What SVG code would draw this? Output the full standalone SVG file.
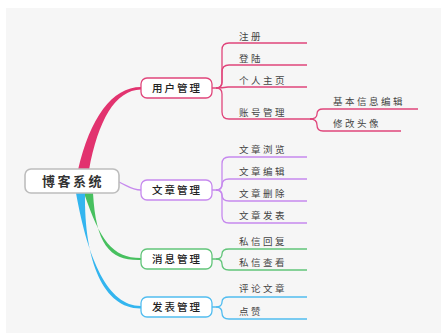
<svg xmlns="http://www.w3.org/2000/svg" width="441" height="333" viewBox="0 0 441 333">
<style>
.bg{fill:#f6f6f6}
.box{fill:#ffffff;stroke-width:1.3}
.root{fill:#ffffff;stroke:#bdbdbd;stroke-width:1.6}
.rt{font-family:"Noto Sans CJK SC","Noto Sans",sans-serif;font-size:13px;font-weight:bold;fill:#333;letter-spacing:2.5px}
.ct{font-family:"Noto Sans CJK SC","Noto Sans",sans-serif;font-size:10.5px;font-weight:500;fill:#222;letter-spacing:2px}
.lt{font-family:"Noto Sans CJK SC","Noto Sans",sans-serif;font-size:9.5px;fill:#444;letter-spacing:2.5px}
.ln{fill:none;stroke-width:1.3}
.pk{stroke:#e0457b}
.pu{stroke:#c689ee}
.gr{stroke:#62c57a}
.bl{stroke:#52bdf0}
</style>
<rect x="0" y="0" width="441" height="333" fill="#ffffff"/>
<rect class="bg" x="6" y="8" width="435" height="325"/>
<g id="connectors">
  <path d="M78,170 C90,118 112,87 141,87 L141,89.5 C115,90 98,121 89,170 Z" fill="#e2336f"/>
  <path d="M119,182 C128,186 132,190 141,190" fill="none" stroke="#c689ee" stroke-width="1.3"/>
  <path d="M84,193 C100,240 112,258 141,258 L141,260 C110,261 96,245 93,193 Z" fill="#47c05f"/>
  <path d="M76,193 C88,260 108,306 141,306 L141,308.5 C104,309 84,262 85,193 Z" fill="#33b5ef"/>
  <path class="ln pk" d="M212,88 H216 Q222,88 222,82 V50 Q222,43 229,43 H307"/>
  <path class="ln pk" d="M216,88 Q222,88 222,82 V72 Q222,65 229,65 H307"/>
  <path class="ln pk" d="M216,88 Q222,88 228,87 H307"/>
  <path class="ln pk" d="M216,88 Q222,88 222,94 V112 Q222,119 229,119 H312"/>
  <path class="ln pk" d="M310,119 Q317,119 317,114 Q317,109 323,109 H418"/>
  <path class="ln pk" d="M310,119 Q317,119 317,125 Q317,131 323,131 H401"/>
  <path class="ln pu" d="M212,190 H216 Q222,190 222,184 V164 Q222,157 229,157 H307"/>
  <path class="ln pu" d="M216,190 Q222,190 222,185 Q222,179 229,179 H307"/>
  <path class="ln pu" d="M216,190 Q222,190 222,195 Q222,201 229,201 H307"/>
  <path class="ln pu" d="M216,190 Q222,190 222,196 V216 Q222,223 229,223 H307"/>
  <path class="ln gr" d="M212,259 H216 Q222,259 222,254 Q222,249 229,249 H307"/>
  <path class="ln gr" d="M216,259 Q222,259 222,264 Q222,270 229,270 H307"/>
  <path class="ln bl" d="M212,307 H216 Q222,307 222,302 Q222,297 229,297 H307"/>
  <path class="ln bl" d="M216,307 Q222,307 222,313 Q222,319 229,319 H307"/>
</g>
<g id="root">
  <rect class="root" x="25" y="169" width="94" height="24" rx="6"/>
  <text class="rt" x="73" y="185.5" text-anchor="middle">博客系统</text>
</g>
<g id="n-user">
  <rect class="box" x="141" y="78" width="71" height="20" rx="6" stroke="#e0457b"/>
  <text class="ct" x="177" y="92" text-anchor="middle">用户管理</text>
</g>
<g id="n-article">
  <rect class="box" x="141" y="180" width="71" height="20" rx="6" stroke="#c689ee"/>
  <text class="ct" x="177" y="194" text-anchor="middle">文章管理</text>
</g>
<g id="n-msg">
  <rect class="box" x="141" y="249" width="71" height="20" rx="6" stroke="#62c57a"/>
  <text class="ct" x="177" y="263" text-anchor="middle">消息管理</text>
</g>
<g id="n-pub">
  <rect class="box" x="141" y="297" width="71" height="20" rx="6" stroke="#52bdf0"/>
  <text class="ct" x="177" y="311" text-anchor="middle">发表管理</text>
</g>
<g id="l-register"><text class="lt" x="239" y="39.5">注册</text></g>
<g id="l-login"><text class="lt" x="239" y="61.5">登陆</text></g>
<g id="l-home"><text class="lt" x="239" y="83.5">个人主页</text></g>
<g id="l-account"><text class="lt" x="239" y="115.5">账号管理</text></g>
<g id="l-basic"><text class="lt" x="333" y="104.5">基本信息编辑</text></g>
<g id="l-avatar"><text class="lt" x="333" y="126.5">修改头像</text></g>
<g id="l-browse"><text class="lt" x="239" y="152.5">文章浏览</text></g>
<g id="l-edit"><text class="lt" x="239" y="174.5">文章编辑</text></g>
<g id="l-delete"><text class="lt" x="239" y="196.5">文章删除</text></g>
<g id="l-post"><text class="lt" x="239" y="218.5">文章发表</text></g>
<g id="l-reply"><text class="lt" x="239" y="244.5">私信回复</text></g>
<g id="l-view"><text class="lt" x="239" y="266">私信查看</text></g>
<g id="l-comment"><text class="lt" x="239" y="292">评论文章</text></g>
<g id="l-like"><text class="lt" x="239" y="314.5">点赞</text></g>
</svg>
